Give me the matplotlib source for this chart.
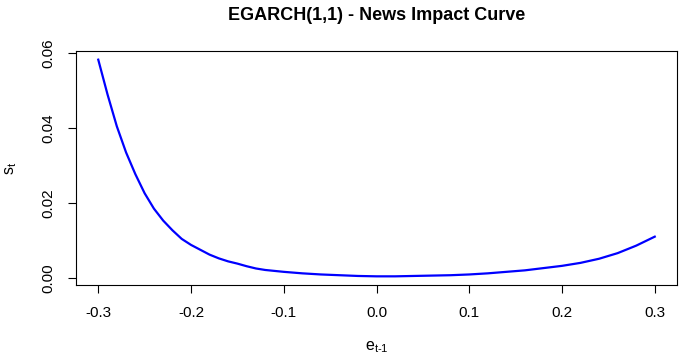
"""
EGARCH(1,1) news impact curve, redrawn in matplotlib (R base-graphics look).
"""

import matplotlib
matplotlib.use("Agg")
import matplotlib.pyplot as plt

# values
e_prev = [-0.30, -0.29, -0.28, -0.27, -0.26, -0.25, -0.24, -0.23, -0.22, -0.21,
          -0.20, -0.19, -0.18, -0.17, -0.16, -0.15, -0.14, -0.13, -0.12, -0.10,
          -0.08, -0.06, -0.04, -0.02, 0.00, 0.02, 0.04, 0.06, 0.08, 0.10,
          0.12, 0.14, 0.16, 0.18, 0.20, 0.22, 0.24, 0.26, 0.28, 0.30]
sigma2 = [0.0583, 0.0490, 0.0405, 0.0335, 0.0277, 0.0226, 0.0185, 0.0153, 0.0127, 0.0104,
          0.0088, 0.0075, 0.0062, 0.0052, 0.0044, 0.0038, 0.0031, 0.0025, 0.0021, 0.0016,
          0.0012, 0.0009, 0.0007, 0.0005, 0.0004, 0.0004, 0.0005, 0.0006, 0.0007, 0.0009,
          0.0012, 0.0016, 0.0020, 0.0026, 0.0032, 0.0040, 0.0051, 0.0066, 0.0086, 0.0110]
x_ticks = [-0.3, -0.2, -0.1, 0.0, 0.1, 0.2, 0.3]
y_ticks = [0.00, 0.02, 0.04, 0.06]

plt.rcParams['font.family'] = ['Liberation Sans', 'DejaVu Sans']
plt.rcParams['mathtext.fontset'] = 'custom'
plt.rcParams['mathtext.rm'] = 'Liberation Sans'

fig = plt.figure(figsize=(6.86, 3.6), dpi=100)
ax = fig.add_axes([76 / 686, 1 - 285 / 360, (677 - 76) / 686, (285 - 51) / 360])

ax.plot(e_prev, sigma2, color='#0000FF', linewidth=1.6)

# R pads the data range by 4% on each side
xr = max(e_prev) - min(e_prev)
yr = max(sigma2) - min(sigma2)
ax.set_xlim(min(e_prev) - 0.04 * xr, max(e_prev) + 0.04 * xr)
ax.set_ylim(min(sigma2) - 0.04 * yr, max(sigma2) + 0.04 * yr)

ax.set_xticks(x_ticks)
ax.set_xticklabels([f'{v:.1f}' for v in x_ticks])
ax.set_yticks(y_ticks)
ax.set_yticklabels([f'{v:.2f}' for v in y_ticks], rotation=90, va='center')
ax.tick_params(direction='out', length=6, width=0.8, labelsize=11, pad=9)

for sp in ax.spines.values():
    sp.set_linewidth(0.8)

ax.set_title('EGARCH(1,1) - News Impact Curve', fontsize=13, fontweight='bold', pad=22)
ax.set_xlabel(r'$\mathregular{e_{t\text{-}1}}$', fontsize=11.5, labelpad=14)
ax.set_ylabel(r'$\mathregular{s_t}$', fontsize=11.5, labelpad=16)

fig.savefig('out.png', dpi=100)
